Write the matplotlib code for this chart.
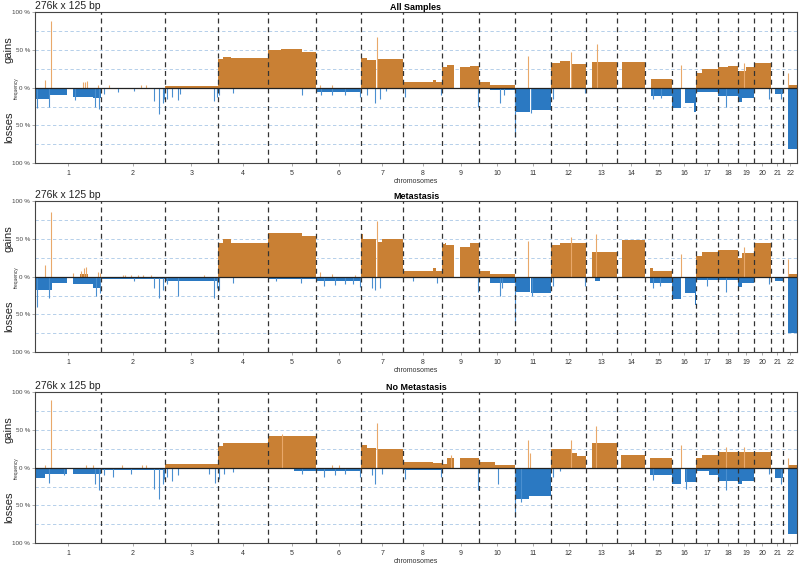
import numpy as np
import matplotlib
matplotlib.use("Agg")
import matplotlib.pyplot as plt

plt.rcParams['font.family'] = ['Liberation Sans', 'DejaVu Sans']

# chromosome lengths in Mb (hg19)
chrom_names = [str(i) for i in range(1, 23)]
chrom_len = [249.3, 243.2, 198.0, 191.2, 180.9, 171.1, 159.1, 146.4, 141.2, 135.5, 135.0,
             133.9, 115.2, 107.3, 102.5, 90.4, 81.2, 78.1, 59.1, 63.0, 48.1, 51.3]

panel_titles = ["All Samples", "Metastasis", "No Metastasis"]
resolution_label = "276k x 125 bp"
y_ticks = [100, 50, 0, -50, -100]
y_tick_labels = ["100 %", "50 %", "0 %", "50 %", "100 %"]

# segments: (chromosome, start Mb, end Mb, frequency %)
# spikes:   (chromosome, position Mb, frequency %)
all_gain_seg = [
    (3, 0, 198, 2), (4, 0, 20, 38), (4, 20, 49, 41), (4, 51, 191, 39),
    (5, 0, 47, 50), (5, 49, 128, 51), (5, 128, 181, 48),
    (7, 0, 20, 40), (7, 20, 57, 37), (7, 60, 159, 38),
    (8, 0, 113, 8), (8, 113, 124, 10), (8, 124, 146, 8),
    (9, 0, 20, 27), (9, 20, 44, 30), (9, 69, 107, 27), (9, 107, 141, 29),
    (10, 0, 40, 8), (10, 40, 135.5, 4),
    (12, 0, 34, 33), (12, 34, 73, 35), (12, 76, 134, 31),
    (13, 21, 115, 34), (14, 19, 107, 34), (15, 20, 102.5, 12),
    (17, 0, 21, 20), (17, 21, 81, 25), (18, 0, 40, 27), (18, 40, 78, 29),
    (19, 0, 27, 22), (19, 28, 59, 27), (20, 0, 63, 33), (22, 16, 51, 4),
]
all_loss_seg = [
    (1, 0, 57, 15), (1, 57, 120, 9), (1, 142, 220, 12), (1, 220, 249, 13),
    (2, 0, 243, 2), (3, 0, 198, 2), (4, 0, 191, 1.5), (5, 0, 181, 2),
    (6, 0, 171, 6), (7, 0, 159, 1), (8, 0, 146, 2), (9, 0, 141, 1),
    (10, 40, 135.5, 3), (11, 0, 57, 32), (11, 58, 135, 30), (12, 0, 134, 2),
    (13, 21, 50, 2), (14, 19, 107, 1), (15, 20, 102.5, 11),
    (16, 0, 34, 27), (16, 46, 80, 20), (16, 80, 90.4, 32),
    (17, 0, 81, 6), (18, 0, 78, 11), (19, 0, 15, 19), (19, 15, 59, 13),
    (20, 0, 63, 1), (21, 15, 48, 8), (22, 16, 51, 82),
]
all_gain_spk = [
    (1, 38, 10), (1, 60, 88), (1, 183, 7), (1, 190, 8), (1, 196, 9), (1, 240, 4),
    (2, 30, 3), (2, 150, 3), (2, 170, 3), (6, 15, 3), (6, 60, 3),
    (7, 58, 67), (11, 49, 42), (12, 74, 47), (13, 40, 58), (16, 34, 30),
    (19, 21, 33), (22, 17, 20),
]
all_loss_spk = [
    (1, 6, 27), (1, 54, 25), (1, 150, 16), (1, 227, 25), (1, 242, 28),
    (2, 13, 8), (2, 63, 6), (2, 126, 5), (2, 202, 18), (2, 221, 35), (2, 233, 20), (2, 239, 15),
    (3, 6, 15), (3, 25, 12), (3, 48, 16), (3, 57, 8), (3, 183, 18), (3, 195, 12),
    (4, 4, 10), (4, 57, 7), (5, 128, 10),
    (6, 20, 10), (6, 60, 10), (6, 110, 9), (6, 168, 12),
    (7, 20, 10), (7, 52, 20), (7, 70, 15), (7, 95, 5),
    (8, 6, 12), (8, 143, 10), (9, 135, 25), (10, 78, 20), (10, 91, 10),
    (11, 0.5, 65), (11, 60, 33), (12, 9, 15), (12, 128, 7),
    (15, 30, 15), (15, 60, 14), (18, 32, 25), (20, 55, 15), (21, 40, 15),
]

met_gain_seg = [
    (1, 170, 200, 4),
    (4, 0, 20, 45), (4, 20, 49, 50), (4, 51, 191, 45),
    (5, 0, 47, 58), (5, 49, 128, 58), (5, 128, 181, 54),
    (7, 0, 8, 57), (7, 8, 57, 50), (7, 65, 77, 46), (7, 77, 159, 50),
    (8, 0, 113, 8), (8, 113, 123, 11), (8, 123, 146, 8),
    (9, 0, 12, 43), (9, 12, 15, 45), (9, 15, 44, 42), (9, 69, 107, 40), (9, 107, 141, 45),
    (10, 0, 40, 8), (10, 40, 135.5, 4),
    (12, 0, 34, 42), (12, 34, 134, 45), (13, 21, 115, 33), (14, 19, 107, 49),
    (15, 19, 28, 12), (15, 28, 102.5, 8),
    (17, 0, 21, 28), (17, 21, 81, 33), (18, 0, 78, 36),
    (19, 0, 15, 25), (19, 15, 59, 32), (20, 0, 63, 45), (22, 16, 51, 4),
]
met_loss_seg = [
    (1, 0, 63, 17), (1, 63, 120, 8), (1, 142, 220, 10), (1, 220, 249, 15),
    (2, 0, 243, 3), (3, 0, 198, 6), (4, 0, 191, 1), (5, 0, 181, 3),
    (6, 0, 171, 6), (7, 0, 159, 1), (8, 0, 146, 2), (9, 0, 141, 1),
    (10, 40, 135.5, 8), (11, 0, 57, 20), (11, 58, 135, 22), (12, 0, 134, 2),
    (13, 34, 53, 5), (15, 19, 102.5, 8),
    (16, 0, 34, 30), (16, 46, 86, 22), (16, 86, 90.4, 38),
    (17, 0, 81, 4), (18, 0, 78, 4), (19, 0, 15, 13), (19, 15, 59, 8),
    (21, 15, 48, 5), (22, 16, 51, 75),
]
met_gain_spk = [
    (1, 38, 15), (1, 60, 86), (1, 145, 5), (1, 175, 8), (1, 185, 11), (1, 192, 13),
    (1, 240, 6), (1, 245, 5),
    (2, 82, 3), (2, 91, 3), (2, 113, 3), (2, 139, 3), (2, 158, 3), (2, 189, 3),
    (3, 145, 3), (6, 15, 7), (6, 60, 4), (6, 148, 3),
    (7, 58, 74), (11, 49, 47), (12, 74, 53), (13, 38, 57), (16, 34, 30),
    (19, 21, 40), (22, 17, 23),
]
met_loss_spk = [
    (1, 6, 40), (1, 54, 28), (1, 232, 25), (1, 245, 22),
    (2, 126, 6), (2, 202, 15), (2, 221, 28), (2, 233, 18),
    (3, 6, 10), (3, 48, 25), (3, 183, 28), (3, 195, 15),
    (4, 4, 18), (4, 57, 8), (5, 28, 6), (5, 123, 8),
    (6, 30, 12), (6, 70, 11), (6, 110, 10), (6, 140, 10), (6, 168, 13),
    (7, 39, 15), (7, 52, 18), (7, 70, 15), (8, 38, 6), (8, 126, 8),
    (9, 135, 20), (10, 78, 25), (10, 85, 15), (11, 0.5, 60), (11, 62, 25),
    (12, 9, 12), (12, 128, 12), (15, 30, 15), (15, 55, 12),
    (17, 40, 12), (18, 32, 20), (20, 55, 10),
]

nomet_gain_seg = [
    (3, 0, 198, 4.5), (4, 0, 20, 29), (4, 20, 49, 33), (4, 51, 191, 33),
    (5, 0, 47, 42), (5, 49, 181, 42),
    (7, 0, 20, 30), (7, 20, 57, 26), (7, 60, 159, 25),
    (8, 0, 113, 8), (8, 113, 146, 6),
    (9, 0, 19, 5), (9, 19, 44, 13), (9, 69, 141, 13),
    (10, 0, 60, 8), (10, 60, 135.5, 4),
    (12, 0, 78, 25), (12, 78, 97, 20), (12, 97, 134, 16),
    (13, 21, 115, 33), (14, 16, 107, 17), (15, 19, 102.5, 13),
    (17, 0, 21, 13), (17, 21, 81, 17), (18, 0, 78, 21), (19, 0, 59, 21),
    (20, 0, 63, 21), (22, 16, 51, 4),
]
nomet_loss_seg = [
    (1, 0, 38, 13), (1, 38, 120, 8), (1, 142, 249, 8),
    (2, 0, 243, 3), (3, 0, 198, 2), (5, 97, 181, 4), (6, 0, 171, 4),
    (8, 0, 146, 3), (9, 0, 141, 1), (10, 40, 135.5, 2),
    (11, 0, 50, 42), (11, 50, 135, 38), (15, 19, 102.5, 9),
    (16, 0, 34, 21), (16, 46, 90.4, 19), (17, 0, 47, 4), (17, 47, 81, 9),
    (18, 0, 78, 18), (19, 0, 15, 22), (19, 15, 59, 18), (20, 0, 63, 2),
    (21, 15, 48, 14), (22, 16, 51, 88),
]
nomet_gain_spk = [
    (1, 38, 3), (1, 60, 90), (1, 193, 4), (1, 220, 4),
    (2, 78, 4), (2, 157, 4), (2, 170, 4), (5, 53, 45), (6, 60, 4), (6, 85, 4),
    (7, 58, 60), (9, 32, 17), (11, 49, 37), (11, 55, 20), (12, 74, 37),
    (13, 38, 55), (16, 34, 30), (18, 32, 28), (19, 21, 28), (22, 17, 13),
]
nomet_loss_spk = [
    (1, 54, 20), (1, 110, 10), (1, 227, 22), (1, 242, 30),
    (2, 13, 10), (2, 44, 12), (2, 113, 8), (2, 202, 28), (2, 221, 42), (2, 233, 22), (2, 239, 15),
    (3, 6, 12), (3, 25, 18), (3, 48, 9), (3, 164, 8), (3, 189, 20),
    (4, 4, 15), (4, 23, 8), (4, 57, 5), (5, 128, 8),
    (6, 30, 12), (6, 70, 10), (6, 110, 8), (6, 168, 12),
    (7, 39, 10), (7, 52, 22), (7, 77, 8), (8, 6, 15), (8, 143, 12),
    (9, 135, 30), (10, 72, 22), (11, 0.5, 66), (11, 20, 46),
    (12, 9, 12), (12, 34, 4), (15, 30, 16), (16, 50, 28), (18, 32, 30),
    (20, 55, 8), (21, 40, 22),
]

panels = [
    (all_gain_seg, all_loss_seg, all_gain_spk, all_loss_spk),
    (met_gain_seg, met_loss_seg, met_gain_spk, met_loss_spk),
    (nomet_gain_seg, nomet_loss_seg, nomet_gain_spk, nomet_loss_spk),
]

GAIN = '#c98034'
LOSS = '#2b79c2'

offsets = np.concatenate([[0], np.cumsum(chrom_len)])
centers = offsets[:-1] + np.array(chrom_len) / 2
genome = offsets[-1]


def to_abs(c, pos):
    return offsets[c - 1] + pos


fig = plt.figure(figsize=(8, 5.66), dpi=100)
axes_bottoms = [0.712, 0.378, 0.0406]
ax_h = 0.266

for i, (gseg, lseg, gspk, lspk) in enumerate(panels):
    ax = fig.add_axes([0.04375, axes_bottoms[i], 0.9525, ax_h])

    for y in [75, 50, 25, -25, -50, -75]:
        ax.axhline(y, color='#a9c8e6', lw=0.6, ls=(0, (4, 3)), zorder=0)

    # segments
    x = [to_abs(c, s) for c, s, e, v in gseg]
    w = [e - s for c, s, e, v in gseg]
    h = [v for c, s, e, v in gseg]
    ax.bar(x, h, width=w, align='edge', color=GAIN, linewidth=0, zorder=2)
    x = [to_abs(c, s) for c, s, e, v in lseg]
    w = [e - s for c, s, e, v in lseg]
    h = [-v for c, s, e, v in lseg]
    ax.bar(x, h, width=w, align='edge', color=LOSS, linewidth=0, zorder=2)

    # narrow peaks
    ax.vlines([to_abs(c, p) for c, p, v in gspk], 0, [v for c, p, v in gspk],
              color='#e9a86a', lw=0.8, zorder=2)
    ax.vlines([to_abs(c, p) for c, p, v in lspk], 0, [-v for c, p, v in lspk],
              color='#4a8fd0', lw=0.8, zorder=2)

    ax.axhline(0, color='#222222', lw=0.9, zorder=3)
    for b in offsets[1:-1]:
        ax.axvline(b, color='#333333', lw=0.9, ls=(0, (4, 3)), zorder=4)

    ax.set_xlim(0, genome)
    ax.set_ylim(-100, 100)
    ax.set_yticks(y_ticks)
    ax.set_yticklabels(y_tick_labels, fontsize=4.5, color='#444444')
    ax.set_xticks(centers)
    ax.set_xticklabels(chrom_names, fontsize=5, color='#333333')
    ax.tick_params(axis='both', length=2, width=0.5, color='#888888', pad=1.5)
    ax.tick_params(axis='x', pad=3)
    for sp in ax.spines.values():
        sp.set_color('#444444')
        sp.set_linewidth(0.8)

    ax.set_title(panel_titles[i], fontsize=6.5, fontweight='bold', pad=2)
    ax.text(0.0, 1.012, resolution_label, transform=ax.transAxes, fontsize=7.5,
            ha='left', va='bottom', color='#222222')
    ax.set_xlabel('chromosomes', fontsize=5, color='#333333', labelpad=1)

    bot = axes_bottoms[i]
    fig.text(0.011, bot + 0.753 * ax_h, 'gains', rotation=90, fontsize=8,
             ha='center', va='center', color='#222222')
    fig.text(0.011, bot + 0.24 * ax_h, 'losses', rotation=90, fontsize=8,
             ha='center', va='center', color='#222222')
    ax.text(-0.024, 0.5, 'frequency', transform=ax.transAxes, rotation=90, fontsize=3.5,
            ha='center', va='center', color='#333333')

fig.savefig('out.png', dpi=100)
